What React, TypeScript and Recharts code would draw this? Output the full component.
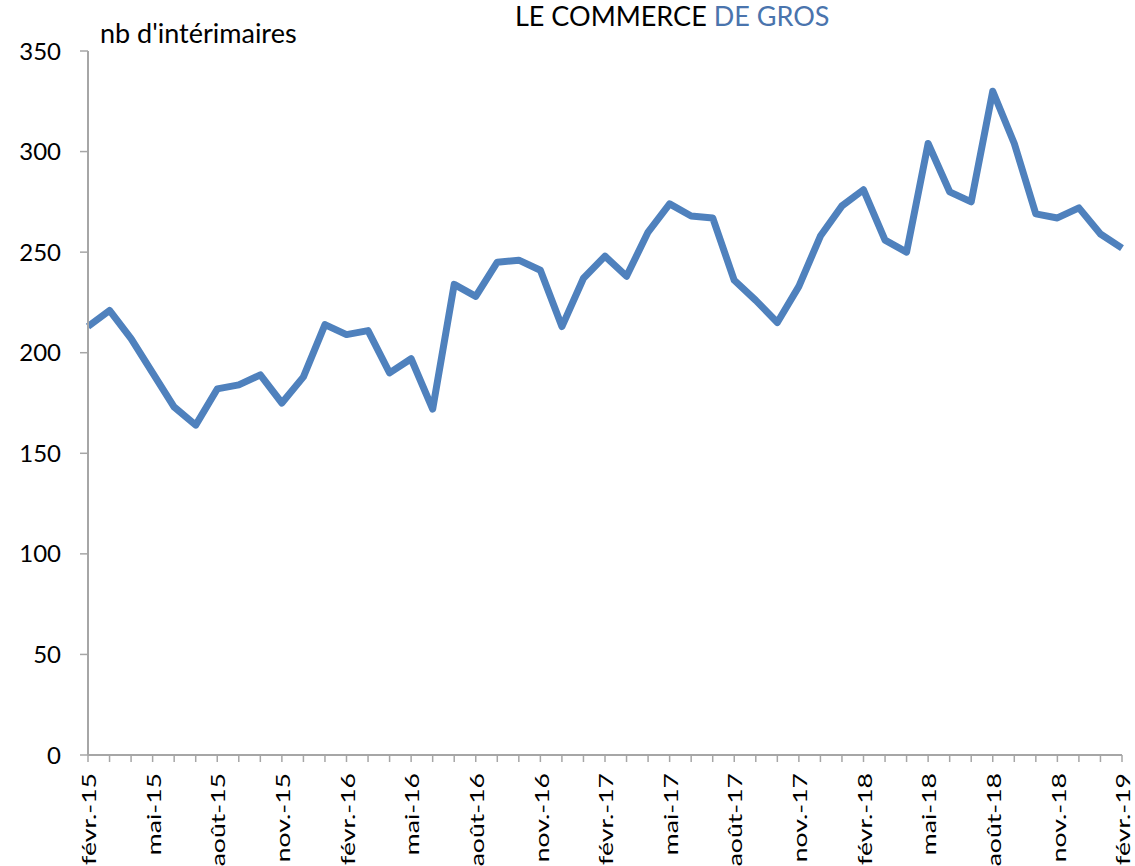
import { LineChart, Line, XAxis, YAxis } from 'recharts';

const months = [
	'févr.-15', 'mars-15', 'avr.-15', 'mai-15', 'juin-15', 'juil.-15', 'août-15', 'sept.-15', 'oct.-15', 'nov.-15', 'déc.-15', 'janv.-16',
	'févr.-16', 'mars-16', 'avr.-16', 'mai-16', 'juin-16', 'juil.-16', 'août-16', 'sept.-16', 'oct.-16', 'nov.-16', 'déc.-16', 'janv.-17',
	'févr.-17', 'mars-17', 'avr.-17', 'mai-17', 'juin-17', 'juil.-17', 'août-17', 'sept.-17', 'oct.-17', 'nov.-17', 'déc.-17', 'janv.-18',
	'févr.-18', 'mars-18', 'avr.-18', 'mai-18', 'juin-18', 'juil.-18', 'août-18', 'sept.-18', 'oct.-18', 'nov.-18', 'déc.-18', 'janv.-19',
	'févr.-19'
];

const interimaires = [
	213, 221, 207, 190, 173, 164, 182, 184, 189, 175, 188, 214,
	209, 211, 190, 197, 172, 234, 228, 245, 246, 241, 213, 237,
	248, 238, 260, 274, 268, 267, 236, 226, 215, 233, 258, 273,
	281, 256, 250, 304, 280, 275, 330, 304, 269, 267, 272, 259,
	252
];

const yTicks = [0, 50, 100, 150, 200, 250, 300, 350];

const data = months.map((month, i) => ({ month, value: interimaires[i] }));

// labels only every 3 months, ticks every month
const MonthTick = (props: any) => {
	const { x, y, payload, index } = props;
	if (index % 3 !== 0) return <g />;
	return (
		<text
			x={0}
			y={0}
			transform={`translate(${x + 1},${y + 9}) rotate(-90) scale(1.33,1)`}
			textAnchor="end"
			dy="0.36em"
			fill="#000"
			fontSize={20}
			fontFamily="Lato, sans-serif"
		>
			{payload.value}
		</text>
	);
};

export default function App() {
	return (
		<div style={{ position: 'absolute', left: 0, top: 0, width: 1135, height: 866, background: '#fff', overflow: 'hidden' }}>
			<div style={{ position: 'absolute', left: 515, top: 2, fontFamily: 'Lato, sans-serif', fontSize: 27, lineHeight: '27px', whiteSpace: 'nowrap' }}>
				<span style={{ color: '#000' }}>LE COMMERCE </span>
				<span style={{ color: '#4a74ad' }}>DE GROS</span>
			</div>
			<div style={{ position: 'absolute', left: 100, top: 16, fontFamily: 'Lato, sans-serif', fontSize: 27, whiteSpace: 'nowrap' }}>
				nb d'intérimaires
			</div>
			<LineChart width={1135} height={866} data={data} margin={{ top: 51, right: 13, bottom: 0, left: 0 }}>
				<XAxis
					dataKey="month"
					interval={0}
					height={111}
					tick={<MonthTick />}
					tickSize={7}
					axisLine={{ stroke: '#a6a6a6', strokeWidth: 2 }}
					tickLine={{ stroke: '#a6a6a6', strokeWidth: 1.5 }}
					padding={{ left: 0, right: 0 }}
				/>
				<YAxis
					domain={[0, 350]}
					ticks={yTicks}
					width={88}
					tickSize={8}
					tickMargin={19}
					axisLine={{ stroke: '#a6a6a6', strokeWidth: 2 }}
					tickLine={{ stroke: '#a6a6a6', strokeWidth: 1.5 }}
					tick={{ fill: '#000', fontSize: 24, fontFamily: 'Lato, sans-serif' }}
				/>
				<Line
					type="linear"
					dataKey="value"
					stroke="#4f81bd"
					strokeWidth={7}
					dot={false}
					strokeLinejoin="round"
					isAnimationActive={false}
				/>
			</LineChart>
		</div>
	);
}
